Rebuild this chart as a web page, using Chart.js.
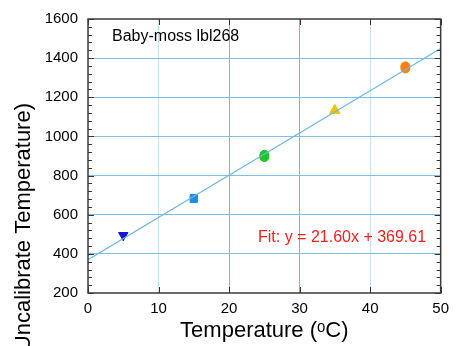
<!DOCTYPE html>
<html>
<head>
<meta charset="utf-8">
<script src="https://cdn.jsdelivr.net/npm/chart.js@4"></script>
<style>
  html, body { margin: 0; padding: 0; background: #fff; }
  #wrap { width: 456px; height: 346px; }
</style>
</head>
<body>
<div id="wrap"><canvas id="calChart"></canvas></div>
<script>
// measured points, grouped by bath temperature
const groupLabels = ['5 °C', '15 °C', '25 °C', '35 °C', '45 °C'];
const groupX = [5, 15, 25, 35, 45];
const groupY = [[495], [680, 686], [895, 906], [1133], [1347, 1358]];

// fit line end points (from the fit label)
const fitX = [0, 50];
const fitY = [369.61, 1449.61];

const xTicks = [0, 10, 20, 30, 40, 50];
const yTicks = [200, 400, 600, 800, 1000, 1200, 1400, 1600];

const groupColors = ['#1414d8', '#1e8ce8', '#22c428', '#f5c400', '#ff7f0e'];
const groupStyles = ['triangle', 'rect', 'circle', 'triangle', 'circle'];
const groupRot = [180, 0, 0, 0, 0];
const groupRadius = [5.5, 5, 4.5, 6, 4.5];

const FONT = '"Liberation Sans", Arial, Helvetica, sans-serif';

document.addEventListener('DOMContentLoaded', function() {
  const datasets = groupX.map(function(x, i) {
    return {
      label: groupLabels[i],
      type: 'scatter',
      data: groupY[i].map(function(y) { return { x: x, y: y }; }),
      pointStyle: groupStyles[i],
      rotation: groupRot[i],
      pointRadius: groupRadius[i],
      backgroundColor: groupColors[i],
      borderColor: groupColors[i],
      borderWidth: 1
    };
  });
  datasets.unshift({
    label: 'Fit',
    type: 'line',
    data: fitX.map(function(x, i) { return { x: x, y: fitY[i] }; }),
    borderColor: '#6cb8e4',
    borderWidth: 1.2,
    pointRadius: 0,
    fill: false
  });

  // frame, inward ticks and the text labels
  const extras = {
    id: 'extras',
    afterDraw(chart) {
      const c = chart.ctx;
      const a = chart.chartArea;
      const xs = chart.scales.x, ys = chart.scales.y;
      c.save();
      c.strokeStyle = '#333';
      c.lineWidth = 1;
      c.beginPath();
      for (let v = 200; v <= 1600; v += 40) {
        const py = Math.round(ys.getPixelForValue(v)) + 0.5;
        const len = (v % 200 === 0) ? 6 : 4;
        c.moveTo(a.left, py); c.lineTo(a.left + len, py);
        c.moveTo(a.right, py); c.lineTo(a.right - len, py);
      }
      xTicks.forEach(function(v) {
        const px = Math.round(xs.getPixelForValue(v)) + 0.5;
        c.moveTo(px, a.bottom); c.lineTo(px, a.bottom - 6);
        c.moveTo(px, a.top); c.lineTo(px, a.top + 6);
      });
      c.stroke();
      c.lineWidth = 1.5;
      c.strokeStyle = '#3a3a3a';
      c.strokeRect(a.left, a.top, a.right - a.left, a.bottom - a.top);

      c.fillStyle = '#000';
      c.font = '16px ' + FONT;
      c.textBaseline = 'middle';
      c.textAlign = 'left';
      c.fillText('Baby-moss lbl268', 112, 37);

      c.fillStyle = '#e8221c';
      c.font = '16px ' + FONT;
      c.fillText('Fit: y = 21.60x + 369.61', 258, 238);

      // y axis title, runs off the bottom edge as in the original
      c.fillStyle = '#000';
      c.font = '22px ' + FONT;
      c.translate(24, 103);
      c.rotate(-Math.PI / 2);
      c.textAlign = 'right';
      c.fillText('Uncalibrate Temperature)', 0, 0);
      c.restore();
    }
  };

  new Chart(document.getElementById('calChart'), {
    type: 'scatter',
    data: { datasets: datasets },
    options: {
      responsive: true,
      maintainAspectRatio: false,
      animation: false,
      layout: { padding: { left: 0, top: 16, right: 12, bottom: 0 } },
      plugins: { legend: { display: false }, tooltip: { enabled: false } },
      scales: {
        x: {
          type: 'linear',
          min: 0, max: 50,
          afterBuildTicks: function(s) { s.ticks = xTicks.map(function(v) { return { value: v }; }); },
          afterFit: function(s) { s.height = 53; },
          grid: {
            drawTicks: false,
            color: function(ctx) {
              const v = ctx.tick && ctx.tick.value;
              if (v === 0 || v === 50) return 'rgba(0,0,0,0)';
              return (v === 20 || v === 30) ? '#72bbe6' : '#c4e2f2';
            },
            lineWidth: 1
          },
          border: { display: false },
          ticks: {
            color: '#000', padding: 7, font: { family: FONT, size: 15 },
            callback: function(v) { return String(v); }
          },
          title: {
            display: true,
            text: 'Temperature (ᵒC)',
            color: '#000',
            font: { family: FONT, size: 22 },
            padding: { top: 0, bottom: 2 }
          }
        },
        y: {
          type: 'linear',
          min: 200, max: 1600,
          afterBuildTicks: function(s) { s.ticks = yTicks.map(function(v) { return { value: v }; }); },
          afterFit: function(s) { s.width = 88; },
          grid: {
            drawTicks: false,
            color: function(ctx) {
              const v = ctx.tick && ctx.tick.value;
              if (v === 200 || v === 1600) return 'rgba(0,0,0,0)';
              return '#7cc0e8';
            },
            lineWidth: 1
          },
          border: { display: false },
          ticks: {
            color: '#000', padding: 10, font: { family: FONT, size: 15 },
            callback: function(v) { return String(v); }
          }
        }
      }
    },
    plugins: [extras]
  });
});
</script>
</body>
</html>
